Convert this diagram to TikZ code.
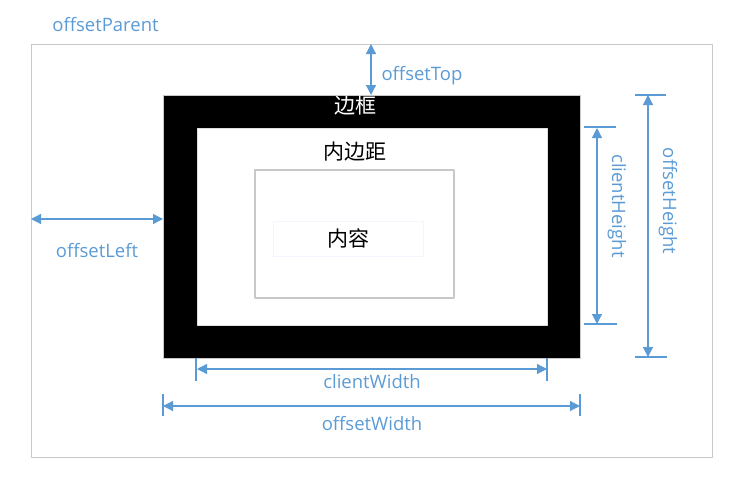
\documentclass[tikz,border=0pt]{standalone}
\usepackage{fontspec}
\setmainfont{Open Sans}
\newfontfamily\cjk{Noto Sans CJK SC}
\usetikzlibrary{arrows.meta}
\definecolor{dimblue}{HTML}{5B9BD5}
\definecolor{boxgray}{HTML}{C8C8C8}
\begin{document}
\begin{tikzpicture}[x=1pt, y=-1pt, line join=round, >={Triangle[length=10pt,width=10pt]},
    dim/.style={dimblue, line width=1.2pt, <->},
    tick/.style={dimblue, line width=1.2pt},
    lbl/.style={text=dimblue, inner sep=0pt, font=\fontsize{18.5}{20}\selectfont},
    zh/.style={inner sep=0pt, font=\cjk\fontsize{21}{23}\selectfont}]
    \useasboundingbox (0,0) rectangle (753,498);
    % boxes
    \coordinate (P1) at (31,44);
    \coordinate (P2) at (712,457);
    \coordinate (B1) at (163,95);
    \coordinate (B2) at (580,358);
    \coordinate (I1) at (197,128);
    \coordinate (I2) at (547,325);
    \coordinate (C1) at (255,170);
    \coordinate (C2) at (454,298);
    \draw[boxgray, line width=0.8pt] (P1) rectangle (P2);
    \draw[boxgray, fill=black, line width=0.8pt] (B1) rectangle (B2);
    \draw[boxgray!60, fill=white, line width=0.8pt] (I1) rectangle (I2);
    \draw[boxgray, line width=1.6pt] (C1) rectangle (C2);
    \node[draw=blue!4, line width=0.6pt, minimum width=150pt, minimum height=35pt] (content) at (348,238.5) {};
    \node[zh] at (content) {内容};
    \node[zh, text=white] (border) at (355,106) {边框};
    \node[zh] (padding) at (355,152) {内边距};
    % dimension arrows
    \coordinate (topA) at (371,44);
    \coordinate (topB) at (371,95);
    \coordinate (leftA) at (31,219);
    \coordinate (leftB) at (163,219);
    \draw[dim] (topA) -- (topB);
    \draw[dim] (leftA) -- (leftB);
    \draw[tick] (584,127) -- (616,127);
    \draw[tick] (584,324) -- (617,324);
    \draw[dim] (597,128) -- (597,324);
    \draw[tick] (635,95) -- (666,95);
    \draw[tick] (635,357) -- (667,357);
    \draw[dim] (648,95) -- (648,357);
    \draw[tick] (196,358) -- (196,381);
    \draw[tick] (547,358) -- (547,381);
    \draw[dim] (197,369) -- (547,369);
    \draw[tick] (163,394) -- (163,416);
    \draw[tick] (580,394) -- (580,416);
    \draw[dim] (163,406) -- (580,406);
    % labels
    \node[lbl] (parent) at (105.5,25) {offsetParent};
    \node[lbl] at (422,76) {offsetTop};
    \node[lbl] at (97,251) {offsetLeft};
    \node[lbl, rotate=-90] at (617,206) {clientHeight};
    \node[lbl, rotate=-90] at (668,201) {offsetHeight};
    \node[lbl] at (372,382) {clientWidth};
    \node[lbl] at (372,424) {offsetWidth};
\end{tikzpicture}
\end{document}
